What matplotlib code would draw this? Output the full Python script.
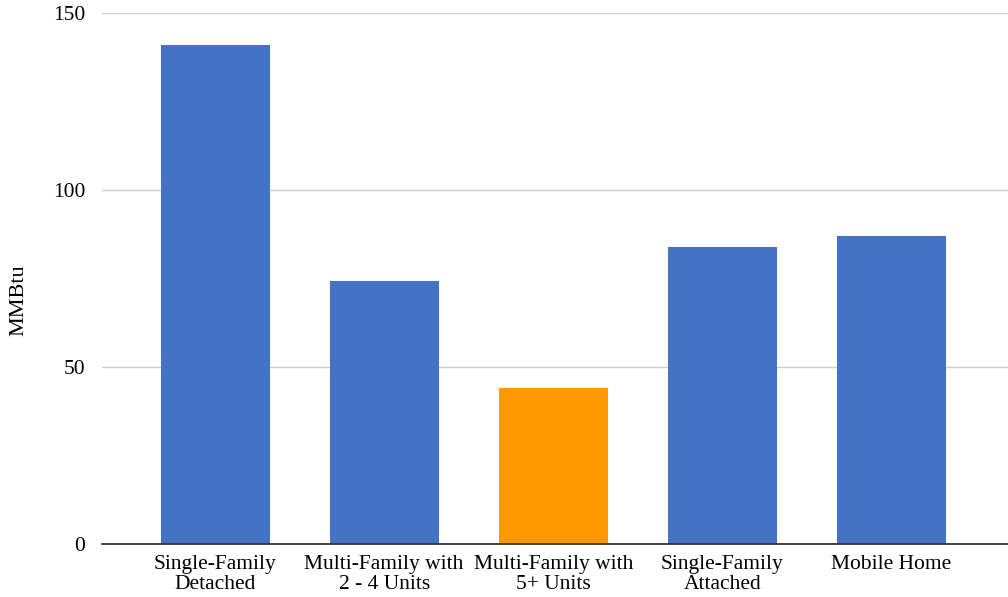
import matplotlib
matplotlib.use("Agg")
import matplotlib.pyplot as plt

categories = ["Single-Family\nDetached", "Multi-Family with\n2 - 4 Units",
              "Multi-Family with\n5+ Units", "Single-Family\nAttached", "Mobile Home"]
values = [141.0, 74.3, 44.2, 83.8, 87.0]
colors = ["#4472C4", "#4472C4", "#FF9900", "#4472C4", "#4472C4"]

plt.rcParams['font.family'] = ['Liberation Serif', 'DejaVu Serif']

fig = plt.figure(figsize=(10.08, 5.97), dpi=100)
ax = fig.add_axes([0.101, 0.0888, 0.899, 0.8894])

x = range(len(categories))
ax.bar(x, values, width=0.645, color=colors, zorder=3)

ax.set_ylim(0, 150)
ax.set_yticks([0, 50, 100, 150])
ax.set_xlim(-0.67, 4.69)
ax.set_xticks(list(x))
ax.set_xticklabels(categories, fontsize=15.5, linespacing=1.08)
ax.tick_params(axis='y', labelsize=15.5, length=0, pad=12)
ax.tick_params(axis='x', length=0, pad=8)
ax.yaxis.grid(True, color="#cccccc", linewidth=1, zorder=0)
ax.set_ylabel("MMBtu", fontsize=16, va='center')
ax.yaxis.set_label_coords(-0.091, 0.4595)

for s in ["top", "right", "left"]:
    ax.spines[s].set_visible(False)
ax.spines["bottom"].set_color("#333333")
ax.spines["bottom"].set_linewidth(1.3)
ax.spines["bottom"].set_zorder(4)

fig.savefig("out.png", dpi=100)
